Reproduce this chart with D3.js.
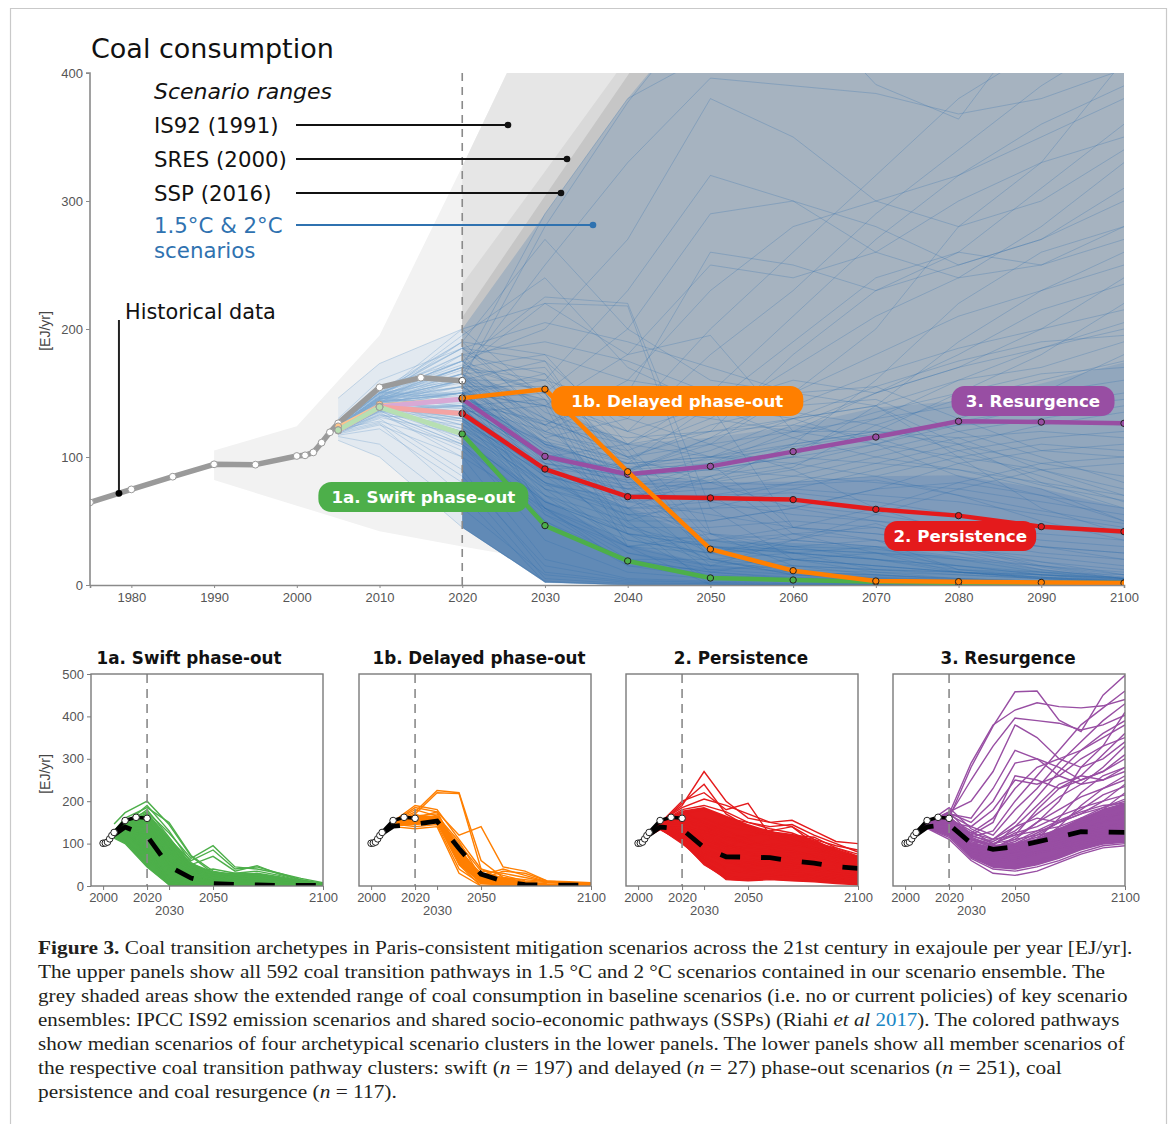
<!DOCTYPE html>
<html>
<head>
<meta charset="utf-8">
<script src="https://cdn.jsdelivr.net/npm/d3@7"></script>
<style>
  body { margin: 0; background: #fff; }
  svg { display: block; }
  text { white-space: pre; }
</style>
</head>
<body>
<svg id="fig" width="1173" height="1124"></svg>
<script>
// ---------------- data ----------------
// Scenario model years
const years = [2005, 2010, 2020, 2030, 2040, 2050, 2060, 2070, 2080, 2090, 2100];

// Historical coal consumption [EJ/yr]
const histYears  = [1975, 1980, 1985, 1990, 1995, 2000, 2001, 2002, 2003, 2004, 2005, 2010, 2015, 2020];
const histValues = [64.5, 74.7, 84.6, 94.3, 94.0, 100.8, 101.3, 103.6, 111.2, 119.3, 126.3, 154.4, 162.0, 159.6];

// Baseline scenario ranges (upper / lower bounds)
const is92Years  = [1990, 2000, 2010, 2020, 2025.4, 2030, 2100];
const is92Upper  = [105, 124, 195, 327, 400, 480, 1500];
const is92Lower  = [82, 62, 42, 30, 24, 18, 0];
const is92bYears = [2020, 2025.4, 2030, 2100];
const is92bUpper = [327, 400, 480, 1500];
const is92bLower = [150, 100, 60, 0];
const sresYears  = [2020, 2030, 2040, 2100];
const sresUpper  = [235, 323, 412, 1200];
const sresLower  = [150, 60, 20, 0];
const sspYears   = [2020, 2030, 2040, 2050, 2100];
const sspUpper   = [209, 304, 398, 500, 1200];
const sspLower   = [150, 60, 20, 0, 0];

// Cluster medians
const swiftMedian       = [121, 139, 118, 46.4, 18.8, 5.5, 3.9, 2.5, 1.5, 1.5, 1.5];
const delayedMedian     = [124, 141, 146, 153, 88.5, 28, 11.2, 3.1, 2.6, 2, 1.5];
const persistenceMedian = [121, 139, 134, 90.6, 69, 68, 66.7, 59.1, 54.2, 45.6, 41.7];
const resurgenceMedian  = [120.6, 139.3, 145.3, 100.5, 86.5, 92.7, 104.2, 115.6, 127.9, 127.3, 126.3];

// Cluster member pathways
const swiftMembers = [
  [146,173,200,145,70,30,20,15,10,5,3],
  [130,160,185,150,72,35,25,20,12,6,4],
  [128,155,175,125,65,95,45,40,30,18,8],
  [126,150,170,110,60,85,40,45,30,15,6],
  [124,145,160,100,50,70,35,48,28,14,5],
  [125,140,150,90,40,30,25,30,22,12,5],
  [123,135,140,70,25,12,8,6,4,3,2],
  [121,132,130,60,20,10,6,4,3,2,1],
  [124,137,120,50,15,6,4,3,2,1,1],
  [122,128,110,35,10,5,3,2,2,1,1],
  [118,125,100,20,5,3,2,1,1,1,0],
  [120,130,90,10,3,2,1,1,0,0,0],
  [117,122,80,5,1,1,0,0,0,0,0],
  [119,126,70,2,0,0,0,0,0,0,0],
  [121,133,125,80,30,15,10,8,5,3,2],
  [126,143,165,95,35,25,30,28,20,10,4],
  [123,141,155,85,45,20,15,12,10,6,3],
  [125,139,145,75,30,40,30,35,25,12,5],
  [124,136,135,65,40,18,12,10,8,5,2],
  [120,131,118,45,20,10,20,15,10,5,2],
  [125,146,190,130,55,25,10,8,5,3,2],
  [124,142,180,115,48,20,8,5,4,2,1],
  [122,139,160,55,18,8,5,4,3,2,1],
  [116,110,60,8,2,1,0,0,0,0,0],
  [113,100,45,3,0,0,0,0,0,0,0],
  [123,140,150,100,45,30,25,20,15,8,4],
  [124,137,140,60,35,25,28,25,15,8,3],
  [120,127,85,15,4,2,1,1,1,0,0]
];
const delayedMembers = [
  [125,150,175,225,220,60,20,10,5,3,2],
  [124,148,170,220,218,40,15,8,4,2,1],
  [126,152,190,180,110,40,25,12,8,5,3],
  [123,145,160,175,120,140,45,35,12,8,5],
  [125,147,150,160,100,35,30,20,10,6,3],
  [122,142,145,150,60,10,5,3,2,1,1],
  [124,146,140,145,40,5,3,2,1,1,1],
  [121,140,135,140,30,0,0,0,0,0,0],
  [125,149,165,170,90,20,10,5,3,2,1],
  [126,151,180,165,70,15,35,30,12,10,8],
  [123,144,155,155,85,25,40,25,10,8,5],
  [124,147,170,150,50,0,0,0,0,0,0],
  [122,143,150,165,105,20,8,4,2,2,2],
  [125,150,185,175,80,30,20,15,10,8,6]
];
const persistenceMembers = [
  [125,150,190,270,200,160,150,140,110,80,60],
  [124,148,200,220,180,195,120,110,100,90,70],
  [126,152,185,205,190,170,150,155,130,105,100],
  [123,145,170,180,160,150,140,145,120,100,80],
  [122,142,160,160,140,130,120,120,110,95,85],
  [125,150,150,140,110,100,100,95,90,80,70],
  [124,146,140,120,95,90,85,80,75,65,55],
  [123,144,135,100,80,75,75,70,65,55,45],
  [121,140,130,85,70,70,72,65,55,45,40],
  [120,138,120,75,60,60,62,55,45,35,30],
  [122,141,115,65,45,45,50,45,35,25,20],
  [119,136,110,55,30,35,40,35,25,18,12],
  [118,133,105,50,20,20,25,20,15,10,5],
  [120,135,100,60,15,12,15,12,10,6,3],
  [125,150,175,150,130,110,90,60,40,30,20],
  [124,147,165,130,100,80,60,50,40,30,25],
  [123,145,155,110,90,115,130,140,100,60,40],
  [126,151,145,125,150,140,130,110,85,70,50],
  [122,142,125,95,85,95,110,120,115,90,75],
  [121,139,118,80,55,50,60,75,80,70,60],
  [124,146,160,145,120,100,95,85,70,50,35],
  [123,143,150,105,75,65,55,50,45,40,35],
  [125,149,180,190,175,150,135,125,105,85,65],
  [120,137,128,90,65,55,45,40,35,30,25],
  [122,140,138,112,88,80,78,82,70,58,48],
  [124,147,195,240,170,140,115,100,90,75,50],
  [121,141,112,70,40,30,28,25,20,15,10],
  [123,144,142,128,115,120,125,115,95,78,66],
  [119,134,108,58,25,15,20,25,22,15,8],
  [122,141,122,88,60,40,35,30,28,22,15]
];
const resurgenceMembers = [
  [125,150,160,280,377,458,460,391,364,450,497],
  [124,148,170,290,380,415,432,423,420,425,440],
  [123,146,165,250,330,396,390,384,368,380,403],
  [125,150,175,200,270,380,350,300,320,350,380],
  [122,142,150,140,180,250,240,260,300,330,410],
  [124,147,155,120,150,260,250,230,260,310,360],
  [121,140,145,110,90,110,150,200,280,330,350],
  [123,145,160,130,100,120,180,230,250,270,300],
  [120,138,140,100,70,80,110,160,220,260,280],
  [122,143,150,105,85,90,100,140,190,230,260],
  [124,146,165,115,95,100,110,120,150,180,220],
  [121,140,135,95,80,85,95,110,130,150,180],
  [123,144,145,90,75,80,90,105,120,130,140],
  [120,139,130,80,60,65,80,95,110,125,135],
  [122,141,125,75,55,60,75,90,105,115,120],
  [119,136,120,70,50,50,60,75,95,105,110],
  [121,140,140,100,90,95,105,115,125,128,125],
  [124,147,175,120,100,110,120,130,140,150,160],
  [123,145,160,110,95,100,115,135,150,165,170],
  [120,137,115,65,40,35,45,60,80,95,100],
  [122,142,138,85,70,75,85,100,115,120,115],
  [125,149,185,135,110,120,130,140,160,170,190],
  [121,140,128,80,65,70,80,85,100,110,105],
  [124,146,150,95,85,90,100,110,125,140,150],
  [122,141,132,88,78,82,92,125,145,160,175],
  [123,144,148,108,92,98,108,118,128,138,145],
  [120,136,110,60,30,25,35,55,75,90,95],
  [123,145,158,125,110,140,160,150,170,200,240],
  [124,147,168,140,120,180,230,290,340,390,430],
  [122,143,150,125,160,230,280,300,280,300,340],
  [123,145,155,115,130,200,260,320,380,420,460],
  [121,141,140,100,110,150,210,270,320,360,390],
  [125,150,172,150,200,290,300,280,250,270,310],
  [120,138,132,90,95,140,190,240,260,250,270],
  [124,146,162,118,105,130,170,210,240,280,330],
  [122,142,145,98,88,115,150,180,210,230,250],
  [123,144,152,112,98,125,140,165,185,200,215],
  [121,140,136,92,82,100,125,150,170,185,200],
  [124,147,170,160,230,320,300,260,240,250,280],
  [122,141,130,85,75,95,120,150,180,215,235],
  [120,137,122,78,68,85,105,130,160,185,205],
  [123,145,150,102,90,105,130,155,175,190,195]
];

const mainYTicks = [0, 100, 200, 300, 400];
const mainXTicks = [1980, 1990, 2000, 2010, 2020, 2030, 2040, 2050, 2060, 2070, 2080, 2090, 2100];
const panelYTicks = [0, 100, 200, 300, 400, 500];
const panelXTicks = [2000, 2020, 2030, 2050, 2100];

// ---------------- drawing ----------------
const svg = d3.select("#fig");
const SANS = "'DejaVu Sans', Verdana, sans-serif";
const AXIS = "'Liberation Sans', Arial, sans-serif";
const COL = { swift: "#4daf4a", delayed: "#ff7f00", persistence: "#e41a1c", resurgence: "#984ea3" };
const PALE = { swift: "#b7dfb2", delayed: "#ffc58c", persistence: "#f4a3a3", resurgence: "#d8a9d5" };

// figure frame
svg.append("path").attr("d", "M10.5,1124 V8.5 H1166.5 V1124")
  .attr("fill", "none").attr("stroke", "#c9c9c9").attr("stroke-width", 1.2);

const mx = d3.scaleLinear().domain([1975, 2100]).range([90, 1124]);
const my = d3.scaleLinear().domain([0, 400]).range([585, 73]);

const defs = svg.append("defs");
defs.append("clipPath").attr("id", "mainClip").append("rect")
  .attr("x", mx(1975)).attr("y", my(400)).attr("width", mx(2100) - mx(1975)).attr("height", my(0) - my(400));
defs.append("clipPath").attr("id", "preClip").append("rect")
  .attr("x", mx(1975)).attr("y", my(400)).attr("width", mx(2020) - mx(1975)).attr("height", my(0) - my(400));
defs.append("clipPath").attr("id", "postClip").append("rect")
  .attr("x", mx(2020)).attr("y", my(400)).attr("width", mx(2100) - mx(2020)).attr("height", my(0) - my(400));

const plot = svg.append("g").attr("clip-path", "url(#mainClip)");

function rangeArea(ys, up, lo) {
  const pts = ys.map((y, i) => ({ y, up: up[i], lo: lo[i] }));
  return d3.area().x(d => mx(d.y)).y0(d => my(d.lo)).y1(d => my(d.up))(pts);
}
// baseline ranges
plot.append("path").attr("d", rangeArea(is92Years, is92Upper, is92Lower)).attr("fill", "#f2f2f2");
plot.append("path").attr("d", rangeArea(is92bYears, is92bUpper, is92bLower)).attr("fill", "#e6e6e6");
plot.append("path").attr("d", rangeArea(sresYears, sresUpper, sresLower)).attr("fill", "#d9d9d9");
plot.append("path").attr("d", rangeArea(sspYears, sspUpper, sspLower)).attr("fill", "#c6c6c6");

// all 1.5/2 degree pathways
const allMembers = [].concat(swiftMembers, delayedMembers, persistenceMembers, resurgenceMembers);
const quant = p => years.map((y, i) => d3.quantile(allMembers.map(m => m[i]).sort(d3.ascending), p));
const envUp = quant(1), envLo = quant(0);
const envArea = rangeArea(years, envUp, envLo);
plot.append("path").attr("d", envArea).attr("fill", "#e2e9f0").attr("clip-path", "url(#preClip)");
plot.append("path").attr("d", envArea).attr("fill", "#a6b3c0").attr("clip-path", "url(#postClip)");
// denser core of the ensemble
const core = plot.append("g").attr("clip-path", "url(#postClip)");
[[0.75, 0.16], [0.55, 0.18], [0.35, 0.2], [0.18, 0.18]].forEach(([q, op]) => {
  core.append("path").attr("d", rangeArea(years, quant(q), envLo))
    .attr("fill", "#2a6cb0").attr("fill-opacity", op);
});

const lineGen = d3.line().x((d, i) => mx(years[i])).y(d => my(d));
const preLines = plot.append("g").attr("clip-path", "url(#preClip)");
const postLines = plot.append("g").attr("clip-path", "url(#postClip)");
preLines.selectAll("path").data(allMembers).join("path")
  .attr("d", lineGen).attr("fill", "none").attr("stroke", "#7fa9d3")
  .attr("stroke-width", 0.8).attr("stroke-opacity", 0.5);
postLines.selectAll("path").data(allMembers).join("path")
  .attr("d", lineGen).attr("fill", "none").attr("stroke", "#2f6ead")
  .attr("stroke-width", 0.85).attr("stroke-opacity", 0.32);

// 2020 marker
svg.append("line").attr("x1", mx(2020)).attr("x2", mx(2020)).attr("y1", my(400)).attr("y2", my(0))
  .attr("stroke", "#8a8a8a").attr("stroke-width", 1.6).attr("stroke-dasharray", "8,6");

// historical series
const histPts = histYears.map((y, i) => [y, histValues[i]]);
plot.append("path").attr("d", d3.line().x(d => mx(d[0])).y(d => my(d[1]))(histPts))
  .attr("fill", "none").attr("stroke", "#9a9a9a").attr("stroke-width", 5.5).attr("stroke-linejoin", "round");
plot.selectAll("circle.hist").data(histPts).join("circle").attr("class", "hist")
  .attr("cx", d => mx(d[0])).attr("cy", d => my(d[1])).attr("r", 3.4)
  .attr("fill", "#fff").attr("stroke", d => d[0] === 2020 ? "#555" : "#9a9a9a").attr("stroke-width", 1);

// medians: pale pre-2020 part, bold post-2020 part
const medians = [
  { key: "delayed", v: delayedMedian, preW: 2.2 },
  { key: "resurgence", v: resurgenceMedian, preW: 5 },
  { key: "persistence", v: persistenceMedian, preW: 5 },
  { key: "swift", v: swiftMedian, preW: 5 }
];
const preIdx = [0, 1, 2];
const postIdx = [2, 3, 4, 5, 6, 7, 8, 9, 10];
medians.forEach(m => {
  const pts = preIdx.map(i => [years[i], m.v[i]]);
  plot.append("path").attr("d", d3.line().x(d => mx(d[0])).y(d => my(d[1]))(pts))
    .attr("fill", "none").attr("stroke", PALE[m.key]).attr("stroke-width", m.preW).attr("stroke-linejoin", "round");
});
medians.forEach(m => {
  plot.selectAll(null).data(preIdx.map(i => [years[i], m.v[i]])).join("circle")
    .attr("cx", d => mx(d[0])).attr("cy", d => my(d[1])).attr("r", 3.4)
    .attr("fill", PALE[m.key]).attr("stroke", "#999").attr("stroke-width", 1);
});
["swift", "persistence", "resurgence", "delayed"].forEach(k => {
  const m = medians.find(d => d.key === k);
  const pts = postIdx.map(i => [years[i], m.v[i]]);
  plot.append("path").attr("d", d3.line().x(d => mx(d[0])).y(d => my(d[1]))(pts))
    .attr("fill", "none").attr("stroke", COL[k]).attr("stroke-width", 4.5).attr("stroke-linejoin", "round");
  plot.selectAll(null).data(pts).join("circle")
    .attr("cx", d => mx(d[0])).attr("cy", d => my(d[1])).attr("r", 3.2)
    .attr("fill", COL[k]).attr("stroke", "#222").attr("stroke-width", 1);
});

// axes
const yAx = svg.append("g").attr("transform", `translate(${mx(1975)},0)`)
  .call(d3.axisLeft(my).tickValues(mainYTicks).tickSize(4).tickPadding(3));
const xAx = svg.append("g").attr("transform", `translate(0,${my(0)})`)
  .call(d3.axisBottom(mx).tickValues(mainXTicks).tickFormat(d3.format("d")).tickSize(3).tickPadding(5));
[yAx, xAx].forEach(a => {
  a.select(".domain").attr("stroke", "#8a8a8a").attr("stroke-width", 1.6);
  a.selectAll(".tick line").attr("stroke", "#8a8a8a");
  a.selectAll("text").attr("font-family", AXIS).attr("font-size", 13).attr("fill", "#555");
});
yAx.select(".domain").attr("d", `M-4,${my(400)}H0V${my(0)}`);
svg.append("text").attr("transform", `translate(50,${my(200) + 2}) rotate(-90)`)
  .attr("text-anchor", "middle").attr("font-family", AXIS).attr("font-size", 14).attr("fill", "#444").text("[EJ/yr]");

// title
svg.append("text").attr("x", 91).attr("y", 58).attr("font-family", SANS).attr("font-size", 27)
  .attr("fill", "#111").text("Coal consumption");

// legend of scenario ranges
svg.append("text").attr("x", 154).attr("y", 99).attr("font-family", SANS).attr("font-size", 22)
  .attr("font-style", "italic").attr("fill", "#111").text("Scenario ranges");
const legendRows = [
  { label: "IS92 (1991)", y: 125, end: 508, color: "#111" },
  { label: "SRES (2000)", y: 159, end: 567, color: "#111" },
  { label: "SSP (2016)", y: 193, end: 561, color: "#111" },
  { label: "1.5°C & 2°C", y: 225, end: 593, color: "#2f72b0" }
];
legendRows.forEach(r => {
  svg.append("text").attr("x", 154).attr("y", r.y + 7.5).attr("font-family", SANS).attr("font-size", 21.3)
    .attr("fill", r.color).text(r.label);
  svg.append("line").attr("x1", 296).attr("x2", r.end).attr("y1", r.y).attr("y2", r.y)
    .attr("stroke", r.color).attr("stroke-width", 1.8);
  svg.append("circle").attr("cx", r.end).attr("cy", r.y).attr("r", 3.3).attr("fill", r.color);
});
svg.append("text").attr("x", 154).attr("y", 258).attr("font-family", SANS).attr("font-size", 21.3)
  .attr("fill", "#2f72b0").text("scenarios");

// historical data annotation
const annYear = 1978.5;
const annVal = d3.interpolateNumber(histValues[0], histValues[1])((annYear - histYears[0]) / (histYears[1] - histYears[0]));
svg.append("line").attr("x1", mx(annYear)).attr("x2", mx(annYear)).attr("y1", 320).attr("y2", my(annVal))
  .attr("stroke", "#222").attr("stroke-width", 2);
svg.append("circle").attr("cx", mx(annYear)).attr("cy", my(annVal)).attr("r", 3.4).attr("fill", "#000");
svg.append("text").attr("x", 125).attr("y", 319).attr("font-family", SANS).attr("font-size", 20.8)
  .attr("fill", "#111").text("Historical data");

// cluster name pills
const pills = [
  { key: "swift", text: "1a. Swift phase-out", year: 2015.3, val: 68.7, w: 210 },
  { key: "delayed", text: "1b. Delayed phase-out", year: 2046.0, val: 143.7, w: 252 },
  { key: "resurgence", text: "3. Resurgence", year: 2089.0, val: 143.7, w: 163 },
  { key: "persistence", text: "2. Persistence", year: 2080.2, val: 38.3, w: 152 }
];
pills.forEach(p => {
  const g = svg.append("g").attr("transform", `translate(${mx(p.year)},${my(p.val)})`);
  g.append("rect").attr("x", -p.w / 2).attr("y", -15).attr("width", p.w).attr("height", 30).attr("rx", 13)
    .attr("fill", COL[p.key]);
  g.append("text").attr("text-anchor", "middle").attr("dy", "0.36em")
    .attr("font-family", SANS).attr("font-weight", "bold").attr("font-size", 16.7)
    .attr("fill", "#fff").text(p.text);
});

// ---------------- lower panels ----------------
const panels = [
  { key: "swift", title: "1a. Swift phase-out", members: swiftMembers, median: swiftMedian, left: 91, titleX: 189, band: [0, 0.85] },
  { key: "delayed", title: "1b. Delayed phase-out", members: delayedMembers, median: delayedMedian, left: 359, titleX: 479, band: [0.15, 0.55] },
  { key: "persistence", title: "2. Persistence", members: persistenceMembers, median: persistenceMedian, left: 626, titleX: 741, band: [0, 0.85] },
  { key: "resurgence", title: "3. Resurgence", members: resurgenceMembers, median: resurgenceMedian, left: 893, titleX: 1008, band: [0.03, 0.4] }
];
const PW = 232, PT = 674, PH = 212;
const px = d3.scaleLinear().domain([1994.5, 2100]).range([0, PW]);
const py = d3.scaleLinear().domain([0, 500]).range([PH, 0]);

panels.forEach((p, pi) => {
  const g = svg.append("g").attr("transform", `translate(${p.left},${PT})`);
  const cid = "pclip" + pi;
  defs.append("clipPath").attr("id", cid).append("rect").attr("width", PW).attr("height", PH);
  const inner = g.append("g").attr("clip-path", `url(#${cid})`);

  // dense core of the cluster
  const lo = years.map((y, i) => d3.quantile(p.members.map(m => m[i]).sort(d3.ascending), p.band[0]));
  const hi = years.map((y, i) => d3.quantile(p.members.map(m => m[i]).sort(d3.ascending), p.band[1]));
  inner.append("path")
    .attr("d", d3.area().x((d, i) => px(years[i])).y0((d, i) => py(lo[i])).y1((d, i) => py(hi[i]))(years))
    .attr("fill", COL[p.key]);
  const pl = d3.line().x((d, i) => px(years[i])).y(d => py(d));
  inner.selectAll("path.member").data(p.members).join("path").attr("class", "member")
    .attr("d", pl).attr("fill", "none").attr("stroke", COL[p.key]).attr("stroke-width", 1.4);

  // 2020 marker
  inner.append("line").attr("x1", px(2020)).attr("x2", px(2020)).attr("y1", 0).attr("y2", PH)
    .attr("stroke", "#8a8a8a").attr("stroke-width", 1.6).attr("stroke-dasharray", "9,6");

  // history
  const hp = histPts.filter(d => d[0] >= 2000);
  inner.append("path").attr("d", d3.line().x(d => px(d[0])).y(d => py(d[1]))(hp))
    .attr("fill", "none").attr("stroke", "#000").attr("stroke-width", 3.5);
  // median
  inner.append("path").attr("d", pl(p.median)).attr("fill", "none").attr("stroke", "#000")
    .attr("stroke-width", 4.8).attr("stroke-dasharray", "20,21");
  inner.selectAll("circle").data(hp).join("circle")
    .attr("cx", d => px(d[0])).attr("cy", d => py(d[1])).attr("r", 3.3)
    .attr("fill", "#fff").attr("stroke", "#222").attr("stroke-width", 1);

  g.append("rect").attr("width", PW).attr("height", PH).attr("fill", "none")
    .attr("stroke", "#7a7a7a").attr("stroke-width", 1.4);

  const xa = g.append("g").attr("transform", `translate(0,${PH})`)
    .call(d3.axisBottom(px).tickValues(panelXTicks).tickFormat(d3.format("d")).tickSize(4).tickPadding(3));
  xa.select(".domain").remove();
  xa.selectAll(".tick line").attr("stroke", "#7a7a7a");
  xa.selectAll("text").attr("font-family", AXIS).attr("font-size", 13).attr("fill", "#555")
    .filter(d => d === 2030).attr("dy", "1.71em");

  if (pi === 0) {
    const ya = g.append("g")
      .call(d3.axisLeft(py).tickValues(panelYTicks).tickSize(4).tickPadding(3));
    ya.select(".domain").remove();
    ya.selectAll(".tick line").attr("stroke", "#7a7a7a");
    ya.selectAll("text").attr("font-family", AXIS).attr("font-size", 13).attr("fill", "#555");
    svg.append("text").attr("transform", `translate(50,${PT + PH / 2 - 6}) rotate(-90)`)
      .attr("text-anchor", "middle").attr("font-family", AXIS).attr("font-size", 14).attr("fill", "#444").text("[EJ/yr]");
  }
  svg.append("text").attr("x", p.titleX).attr("y", 664).attr("text-anchor", "middle")
    .attr("font-family", SANS).attr("font-weight", "bold").attr("font-size", 16.8).attr("fill", "#111").text(p.title);
});

// ---------------- caption ----------------
const caption = [
  [{ t: "Figure 3.", b: 1 }, { t: " Coal transition archetypes in Paris-consistent mitigation scenarios across the 21st century in exajoule per year [EJ/yr]." }],
  [{ t: "The upper panels show all 592 coal transition pathways in 1.5 °C and 2 °C scenarios contained in our scenario ensemble. The" }],
  [{ t: "grey shaded areas show the extended range of coal consumption in baseline scenarios (i.e. no or current policies) of key scenario" }],
  [{ t: "ensembles: IPCC IS92 emission scenarios and shared socio-economic pathways (SSPs) (Riahi " }, { t: "et al", i: 1 }, { t: " " }, { t: "2017", c: "#1a86c4" }, { t: "). The colored pathways" }],
  [{ t: "show median scenarios of four archetypical scenario clusters in the lower panels. The lower panels show all member scenarios of" }],
  [{ t: "the respective coal transition pathway clusters: swift (" }, { t: "n", i: 1 }, { t: " = 197) and delayed (" }, { t: "n", i: 1 }, { t: " = 27) phase-out scenarios (" }, { t: "n", i: 1 }, { t: " = 251), coal" }],
  [{ t: "persistence and coal resurgence (" }, { t: "n", i: 1 }, { t: " = 117)." }]
];
const captionEnds = [1133, 1106, 1128, 1120, 1126, 1062, 397];
caption.forEach((segs, i) => {
  const t = svg.append("text").attr("font-family", "'Liberation Serif', 'Times New Roman', serif")
    .attr("font-size", 19.5).attr("fill", "#231f20");
  segs.forEach(s => {
    const ts = t.append("tspan").text(s.t);
    if (s.b) ts.attr("font-weight", "bold");
    if (s.i) ts.attr("font-style", "italic");
    if (s.c) ts.attr("fill", s.c);
  });
  const w = t.node().getComputedTextLength();
  t.attr("transform", `translate(38,${954 + 24 * i}) scale(${(captionEnds[i] - 38) / w},1)`);
});
</script>
</body>
</html>
